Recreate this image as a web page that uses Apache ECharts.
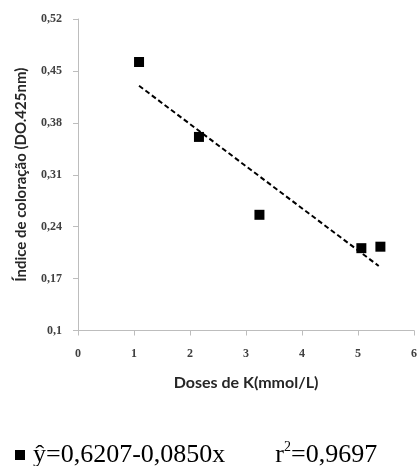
<!DOCTYPE html>
<html><head><meta charset="utf-8">
<script src="https://cdn.jsdelivr.net/npm/echarts@6/dist/echarts.min.js"></script>
<style>html,body{margin:0;padding:0;background:#fff}#c{width:420px;height:466px}</style>
</head><body><div id="c"></div>
<script>
var doses = [1.09, 2.16, 3.24, 5.06, 5.40];
var indice = [0.462, 0.361, 0.256, 0.211, 0.213];
var trendX = [1.09, 5.37];
var trendY = [0.430, 0.187];
var yTicks = [0.1, 0.17, 0.24, 0.31, 0.38, 0.45, 0.52];
var xTicks = [0, 1, 2, 3, 4, 5, 6];
var seriesName = 'ŷ=0,6207-0,0850x';
var r2Text = '0,9697';

var chart = echarts.init(document.getElementById('c'));
var tickFont = {fontFamily: 'Liberation Serif', fontWeight: 'bold', fontSize: 12, color: '#404040'};
chart.setOption({
  animation: false,
  grid: {left: 78, right: 2, top: 19, bottom: 135.5},
  xAxis: {
    type: 'value', min: xTicks[0], max: xTicks[xTicks.length - 1], interval: 1,
    name: 'Doses de K(mmol/L)', nameLocation: 'middle', nameGap: 44,
    nameTextStyle: {fontFamily: 'Lato', fontWeight: 'bold', fontSize: 16, color: '#262626'},
    axisLine: {lineStyle: {color: '#bdbdbd'}},
    axisTick: {show: true, length: 5, lineStyle: {color: '#bdbdbd'}},
    splitLine: {show: false},
    axisLabel: Object.assign({margin: 17}, tickFont)
  },
  yAxis: {
    type: 'value', min: yTicks[0], max: yTicks[yTicks.length - 1], interval: 0.07,
    name: 'Índice de coloração (DO.425nm)', nameLocation: 'middle', nameGap: 49,
    nameTextStyle: {fontFamily: 'Lato', fontWeight: 'bold', fontSize: 15, color: '#262626'},
    axisLine: {show: true, lineStyle: {color: '#bdbdbd'}},
    axisTick: {show: true, length: 5, lineStyle: {color: '#bdbdbd'}},
    splitLine: {show: false},
    axisLabel: Object.assign({margin: 16, formatter: function (v) {
      return String(+v.toFixed(2)).replace('.', ',');
    }}, tickFont)
  },
  legend: {
    left: 10, top: 435, itemWidth: 10, itemHeight: 10, itemGap: 4,
    data: [{name: seriesName, icon: 'rect', itemStyle: {color: '#000', opacity: 1}}],
    formatter: function (n) { return '{a|' + n + '}{g|}{a|r}{s|2}{a|=' + r2Text + '}'; },
    textStyle: {
      padding: [0, 0, 0, 3],
      rich: {
        a: {fontFamily: 'Liberation Serif', fontSize: 26, color: '#000', lineHeight: 30},
        g: {width: 50},
        s: {fontFamily: 'Liberation Serif', fontSize: 14, color: '#000', verticalAlign: 'top', lineHeight: 30, padding: [0, 0, 12, 0]}
      }
    }
  },
  series: [
    {name: seriesName, type: 'scatter', symbol: 'rect', symbolSize: 10,
     itemStyle: {color: '#000', opacity: 1},
     data: doses.map(function (d, i) { return [d, indice[i]]; })},
    {name: 'trend', type: 'line', symbol: 'none',
     lineStyle: {color: '#000', width: 2, type: [5, 3]},
     data: trendX.map(function (d, i) { return [d, trendY[i]]; })}
  ]
});
</script></body></html>
